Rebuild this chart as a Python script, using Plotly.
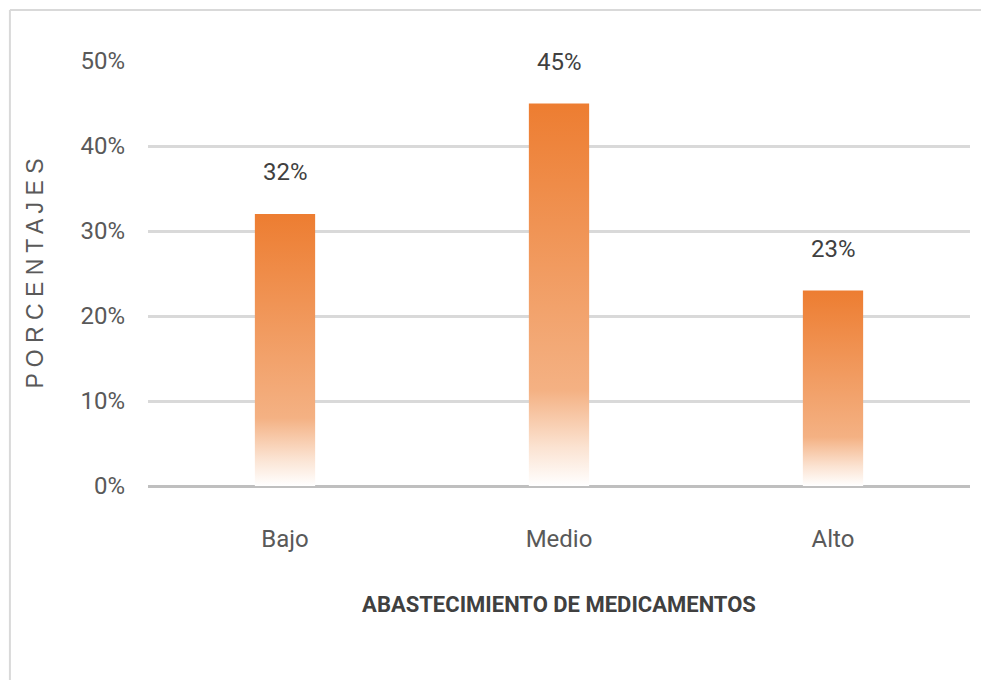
import plotly.graph_objects as go

# Datos
categorias = ["Bajo", "Medio", "Alto"]
porcentajes = [0.32, 0.45, 0.23]
ticks_y = [0, 0.1, 0.2, 0.3, 0.4, 0.5]
etiquetas_y = ["0%", "10%", "20%", "30%", "40%", "50%"]

ANCHO = 0.22  # ancho de barra en unidades de categoría
NARANJA = "#ED7D31"
GRIS_TXT = "#595959"
FUENTE = "Roboto"

fig = go.Figure()

# Barras con degradado vertical (naranja arriba -> blanco abajo)
for i, (cat, v) in enumerate(zip(categorias, porcentajes)):
    fig.add_trace(go.Scatter(
        x=[i - ANCHO / 2, i + ANCHO / 2, i + ANCHO / 2, i - ANCHO / 2, i - ANCHO / 2],
        y=[0, 0, v, v, 0],
        mode="lines",
        line=dict(width=0),
        fill="toself",
        fillgradient=dict(
            type="vertical",
            colorscale=[
                [0, "#FFFFFF"],
                [0.1, "#FBE3D2"],
                [0.25, "#F4B183"],
                [1, NARANJA],
            ],
        ),
        name=cat,
        hoverinfo="skip",
        showlegend=False,
    ))
    fig.add_annotation(
        x=i, y=v, text=f"{v:.0%}", showarrow=False,
        yshift=42, font=dict(family=FUENTE, size=24, color="#404040"),
    )

# Marco gris claro: solo bordes superior e izquierdo visibles
borde = dict(color="#D9D9D9", width=2)
fig.add_shape(type="line", xref="paper", yref="paper",
              x0=-0.168, x1=1.1, y0=1.12, y1=1.12, line=borde, layer="below")
fig.add_shape(type="line", xref="paper", yref="paper",
              x0=-0.168, x1=-0.168, y0=-0.6, y1=1.12, line=borde, layer="below")

# la página deja 8 px de margen: la figura se reduce en consecuencia
fig.update_layout(
    width=981,
    height=672,
    margin=dict(l=140, r=19, t=53, b=194),
    plot_bgcolor="white",
    paper_bgcolor="white",
    xaxis=dict(
        range=[-0.5, 2.5],
        tickvals=list(range(len(categorias))),
        ticktext=categorias,
        showgrid=False,
        zeroline=False,
        ticks="",
        ticklabelstandoff=36,
        tickfont=dict(family=FUENTE, size=24, color=GRIS_TXT),
        title=dict(
            text="<b>ABASTECIMIENTO DE MEDICAMENTOS</b>",
            font=dict(family=FUENTE, size=22, color="#404040"),
            standoff=44,
        ),
    ),
    yaxis=dict(
        range=[0, 0.5],
        tickvals=ticks_y,
        ticktext=etiquetas_y,
        showgrid=True,
        gridcolor="#D9D9D9",
        gridwidth=3,
        zeroline=True,
        zerolinecolor="#BFBFBF",
        zerolinewidth=3,
        ticks="",
        ticklabelstandoff=22,
        tickfont=dict(family=FUENTE, size=24, color=GRIS_TXT),
        title=dict(
            text=" ".join("PORCENTAJES"),
            font=dict(family="Liberation Sans", size=23, color=GRIS_TXT),
            standoff=30,
        ),
    ),
)

fig.write_html("out.html")
